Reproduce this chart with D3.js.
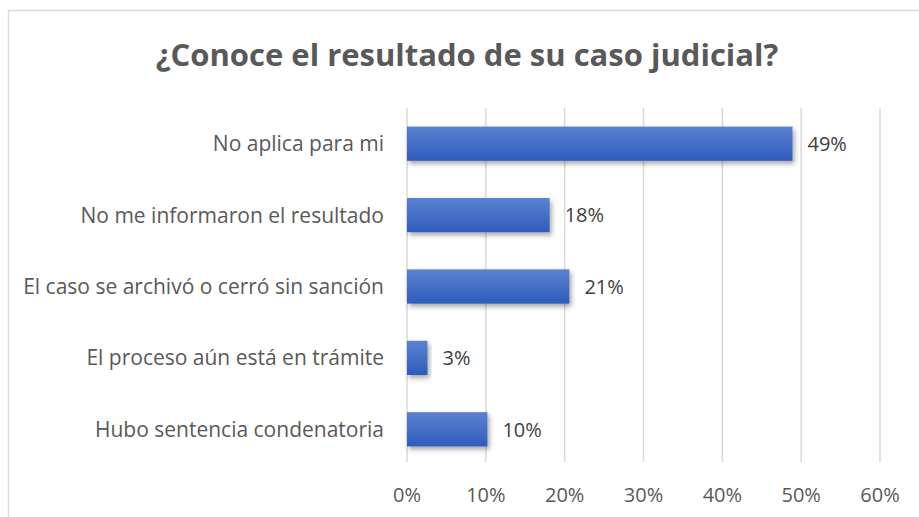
<!DOCTYPE html>
<html>
<head>
<meta charset="utf-8">
<script src="https://cdn.jsdelivr.net/npm/d3@7"></script>
<style>
  body { margin: 0; background: #fff; }
  text { font-family: "Open Sans", sans-serif; }
</style>
</head>
<body>
<svg></svg>
<script>
var categories = ["No aplica para mi", "No me informaron el resultado", "El caso se archivó o cerró sin sanción", "El proceso aún está en trámite", "Hubo sentencia condenatoria"];
var values = [48.9, 18.1, 20.6, 2.6, 10.2];
var ticks = [0, 10, 20, 30, 40, 50, 60];
var title = "¿Conoce el resultado de su caso judicial?";

var width = 919, height = 517;
var svg = d3.select("svg").attr("width", width).attr("height", height);

// chart frame (only top + left edges visible in the crop)
svg.append("path")
    .attr("d", "M8.5,517 L8.5,10.5 L919,10.5")
    .attr("fill", "none")
    .attr("stroke", "#d9d9d9")
    .attr("stroke-width", 1.5);

var defs = svg.append("defs");
var grad = defs.append("linearGradient")
    .attr("id", "barGrad")
    .attr("x1", 0).attr("y1", 0).attr("x2", 0).attr("y2", 1);
grad.append("stop").attr("offset", "0%").attr("stop-color", "#5b82cf");
grad.append("stop").attr("offset", "100%").attr("stop-color", "#2e5cbd");

var shadow = defs.append("filter").attr("id", "shadow")
    .attr("x", "-10%").attr("y", "-30%").attr("width", "130%").attr("height", "180%");
shadow.append("feDropShadow")
    .attr("dx", 2).attr("dy", 3).attr("stdDeviation", 2.5)
    .attr("flood-color", "#000").attr("flood-opacity", 0.35);

var x = d3.scaleLinear().domain([0, 60]).range([407, 880]);
var y = d3.scaleBand().domain(categories).range([108, 465]).paddingInner(0.52).paddingOuter(0.26);

// gridlines
svg.append("g").selectAll("line")
    .data(ticks).enter().append("line")
    .attr("x1", function(d) { return x(d); })
    .attr("x2", function(d) { return x(d); })
    .attr("y1", 108).attr("y2", 462)
    .attr("stroke", "#d9d9d9")
    .attr("stroke-width", 1.5);

svg.append("text")
    .attr("x", 467).attr("y", 66)
    .attr("text-anchor", "middle")
    .attr("fill", "#595959")
    .attr("font-size", 31)
    .attr("font-weight", "bold")
    .text(title);

// x tick labels
svg.append("g").selectAll("text")
    .data(ticks).enter().append("text")
    .attr("x", function(d) { return x(d); })
    .attr("y", 502)
    .attr("text-anchor", "middle")
    .attr("fill", "#595959")
    .attr("font-size", 20)
    .text(function(d) { return d + "%"; });

// category labels
svg.append("g").selectAll("text")
    .data(categories).enter().append("text")
    .attr("x", 384)
    .attr("y", function(d) { return y(d) + y.bandwidth() / 2; })
    .attr("dy", "0.36em")
    .attr("text-anchor", "end")
    .attr("fill", "#595959")
    .attr("font-size", 21)
    .text(function(d) { return d; });

// bars
svg.append("g").selectAll("rect")
    .data(values).enter().append("rect")
    .attr("x", x(0))
    .attr("y", function(d, i) { return y(categories[i]); })
    .attr("width", function(d) { return x(d) - x(0); })
    .attr("height", y.bandwidth())
    .attr("fill", "url(#barGrad)")
    .attr("filter", "url(#shadow)");

// value labels
svg.append("g").selectAll("text")
    .data(values).enter().append("text")
    .attr("x", function(d) { return x(d) + 15; })
    .attr("y", function(d, i) { return y(categories[i]) + y.bandwidth() / 2; })
    .attr("dy", "0.36em")
    .attr("fill", "#404040")
    .attr("font-size", 20)
    .text(function(d) { return Math.round(d) + "%"; });
</script>
</body>
</html>
